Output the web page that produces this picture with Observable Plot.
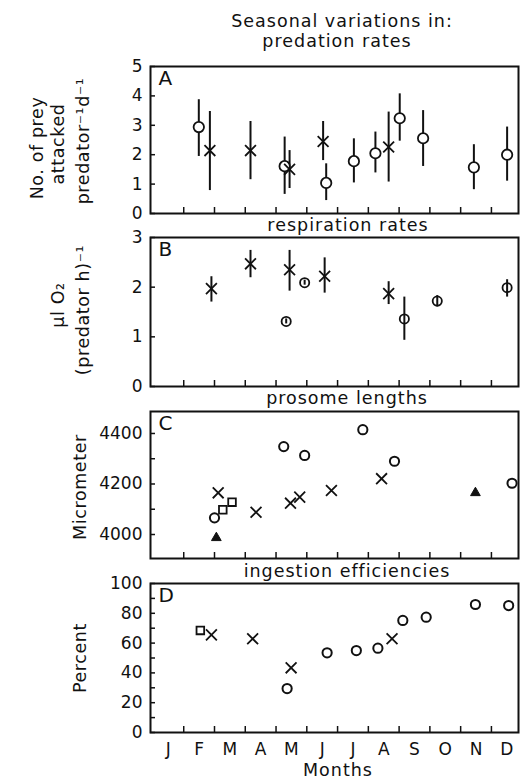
<!DOCTYPE html>
<html><head><meta charset="utf-8">
<script src="https://cdn.jsdelivr.net/npm/d3@7"></script>
<script src="https://cdn.jsdelivr.net/npm/@observablehq/plot@0.6"></script>
<style>
body{margin:0;background:#fff;}
#chart{position:relative;width:523px;height:780px;font-family:"DejaVu Sans",sans-serif;color:#111;overflow:hidden;}
</style></head><body><div id="chart"></div>
<script>
// ---- shared axis data ----
const monthLabels = ["J","F","M","A","M","J","J","A","S","O","N","D"];
const monthCenters = [0.5,1.5,2.5,3.5,4.5,5.5,6.5,7.5,8.5,9.5,10.5,11.5];
const monthTicks = [1,2,3,4,5,6,7,8,9,10,11];

// ---- A: predation rates ----
const predMonth  = [1.49, 1.85, 3.17, 4.28, 4.44, 5.53, 5.63, 6.53, 7.23, 7.66, 8.02, 8.78, 10.43, 11.51];
const predMean   = [2.94, 2.14, 2.14, 1.61, 1.50, 2.45, 1.04, 1.78, 2.05, 2.26, 3.24, 2.56, 1.57, 2.00];
const predLow    = [1.94, 0.78, 1.15, 0.65, 0.85, 1.80, 0.44, 1.04, 1.38, 1.07, 2.46, 1.60, 0.81, 1.10];
const predHigh   = [3.87, 3.47, 3.13, 2.60, 2.14, 3.13, 1.69, 2.54, 2.77, 3.45, 4.07, 3.50, 2.34, 2.94];
const predSymbol = ["circle","times","times","circle","times","times","circle","circle","circle","times","circle","circle","circle","circle"];
const predTicks = [0,1,2,3,4,5];

// ---- B: respiration rates ----
const respMonth  = [1.90, 3.17, 4.44, 4.33, 4.93, 5.58, 7.66, 8.17, 9.24, 11.51];
const respMean   = [1.97, 2.47, 2.35, 1.31, 2.09, 2.22, 1.87, 1.36, 1.72, 1.99];
const respLow    = [1.70, 2.19, 1.92, 1.26, 2.04, 1.88, 1.65, 0.93, 1.60, 1.80];
const respHigh   = [2.21, 2.74, 2.74, 1.36, 2.14, 2.59, 2.11, 1.80, 1.83, 2.15];
const respSymbol = ["times","times","times","circle","circle","times","times","circle","circle","circle"];
const respTicks = [0,1,2,3];

// ---- C: prosome lengths ----
const lenMonth  = [2.00, 2.27, 2.57, 2.06, 2.12, 3.35, 4.25, 4.47, 4.77, 4.93, 5.80, 6.82, 7.43, 7.85, 10.48, 11.67];
const lenValue  = [4066, 4098, 4128, 3987, 4165, 4088, 4348, 4124, 4148, 4313, 4174, 4415, 4221, 4290, 4165, 4203];
const lenSymbol = ["circle","square","square","triangle","times","times","circle","times","times","circle","times","circle","times","circle","triangle","circle"];
const lenLabelTicks = [4000,4200,4400];
const lenTicks = [4000,4100,4200,4300,4400];

// ---- D: ingestion efficiencies ----
const ingMonth  = [1.54, 1.90, 3.24, 4.36, 4.49, 5.66, 6.61, 7.31, 7.77, 8.12, 8.88, 10.48, 11.56];
const ingValue  = [68.5, 65.5, 62.9, 29.5, 43.4, 53.5, 55.0, 56.6, 62.9, 75.2, 77.4, 85.9, 85.2];
const ingSymbol = ["square","times","times","circle","times","circle","circle","circle","times","circle","circle","circle","circle"];
const ingLabelTicks = [0,20,40,60,80,100];
const ingTicks = [0,10,20,30,40,50,60,70,80,90,100];

// ---- layout ----
const W = 523, FL = 150, FR = 518;
const X_DOMAIN = [-0.08, 11.88];
const FONT = "DejaVu Sans";
const chart = document.getElementById("chart");

const predData = predMonth.map((m,i)=>({m, v:predMean[i], lo:predLow[i], hi:predHigh[i], s:predSymbol[i]}));
const respData = respMonth.map((m,i)=>({m, v:respMean[i], lo:respLow[i], hi:respHigh[i], s:respSymbol[i]}));
const lenData  = lenMonth.map((m,i)=>({m, v:lenValue[i], s:lenSymbol[i]}));
const ingData  = ingMonth.map((m,i)=>({m, v:ingValue[i], s:ingSymbol[i]}));

function symbolMarks(data, opts) {
  const circ = data.filter(d=>d.s==="circle");
  const tim = data.filter(d=>d.s==="times");
  const sq = data.filter(d=>d.s==="square");
  const tri = data.filter(d=>d.s==="triangle");
  return [
    Plot.dot(circ, {x:"m", y:"v", symbol:"circle", r:opts.cr, stroke:"#111", fill:opts.cfill, strokeWidth:opts.csw}),
    Plot.dot(tim, {x:"m", y:"v", symbol:"times", r:5, stroke:"#111", strokeWidth:1.8}),
    Plot.dot(sq, {x:"m", y:"v", symbol:"square", r:4.3, stroke:"#111", fill:"white", strokeWidth:1.8}),
    Plot.dot(tri, {x:"m", y:"v", symbol:"triangle", r:3.6, stroke:"#111", fill:"#111", strokeWidth:1})
  ];
}

function panel({top, bottom, yDomain, labelTicks, ticks, marks, letter, xAxis}) {
  const mt = 4, mb = xAxis ? 50 : 4;
  const h = bottom - top;
  const p = Plot.plot({
    width: W, height: h + mt + mb,
    marginLeft: FL, marginRight: W - FR, marginTop: mt, marginBottom: mb,
    style: {background: "none", fontFamily: FONT, fontSize: "17px", color: "#111", overflow: "visible"},
    x: {domain: X_DOMAIN, axis: xAxis ? undefined : null},
    y: {domain: yDomain},
    marks: [
      Plot.tickX(monthTicks, {x: d=>d, insetTop: h - 6, strokeWidth: 1.5, stroke:"#111"}),
      Plot.tickY(ticks, {y: d=>d, insetRight: (FR - FL) - 5, strokeWidth: 1.5, stroke:"#111"}),
      Plot.axisY({ticks: labelTicks, tickSize: 0, tickPadding: 8, tickFormat: d=>String(d), label: null}),
      xAxis ? Plot.axisX({ticks: monthCenters, tickSize: 0, tickPadding: 10, tickFormat: d=>monthLabels[Math.floor(d)], label: null}) : null,
      ...marks,
      Plot.frame({stroke: "#111", strokeWidth: 2}),
      Plot.text([letter], {frameAnchor: "top-left", text: d=>d, dx: 8, dy: 4, fontSize: 20, fill: "#111"})
    ]
  });
  p.style.position = "absolute";
  p.style.left = "0px";
  p.style.top = (top - mt) + "px";
  chart.append(p);
}

panel({top: 66, bottom: 213, yDomain: [0,5], labelTicks: predTicks, ticks: predTicks, letter: "A",
  marks: [Plot.ruleX(predData, {x:"m", y1:"lo", y2:"hi", strokeWidth:2, stroke:"#111"}),
          ...symbolMarks(predData, {cr:5.2, cfill:"white", csw:1.8})]});
panel({top: 237, bottom: 386, yDomain: [0,3], labelTicks: respTicks, ticks: respTicks, letter: "B",
  marks: [Plot.ruleX(respData, {x:"m", y1:"lo", y2:"hi", strokeWidth:2, stroke:"#111"}),
          ...symbolMarks(respData, {cr:4.6, cfill:"none", csw:1.8})]});
panel({top: 411, bottom: 558, yDomain: [3905,4487], labelTicks: lenLabelTicks, ticks: lenTicks, letter: "C",
  marks: symbolMarks(lenData, {cr:4.6, cfill:"white", csw:2})});
panel({top: 583, bottom: 732, yDomain: [0,100], labelTicks: ingLabelTicks, ticks: ingTicks, letter: "D", xAxis: true,
  marks: symbolMarks(ingData, {cr:4.6, cfill:"white", csw:2})});

// ---- text overlay ----
const svg = d3.select(chart).append("svg")
  .attr("width", W).attr("height", 780)
  .style("position","absolute").style("left","0").style("top","0")
  .style("pointer-events","none")
  .attr("font-family", FONT).attr("fill", "#111");

const titles = [
  {t: "Seasonal variations in:", x: 342, y: 27},
  {t: "predation rates", x: 337, y: 47},
  {t: "respiration rates", x: 348, y: 231},
  {t: "prosome lengths", x: 347, y: 404},
  {t: "ingestion efficiencies", x: 347, y: 577},
  {t: "Months", x: 338, y: 776}
];
svg.selectAll("text.title").data(titles).join("text")
  .attr("class","title")
  .attr("x", d=>d.x).attr("y", d=>d.y)
  .attr("text-anchor","middle").attr("font-size", 17.5)
  .attr("letter-spacing", "1px")
  .text(d=>d.t);

const yTitles = [
  {t: "No. of prey", x: 43, y: 148},
  {t: "attacked", x: 64, y: 144},
  {t: "predator⁻¹d⁻¹", x: 89, y: 141},
  {t: "µl O₂", x: 64, y: 305},
  {t: "(predator h)⁻¹", x: 89, y: 310},
  {t: "Micrometer", x: 86, y: 487},
  {t: "Percent", x: 86, y: 658}
];
svg.selectAll("text.ytitle").data(yTitles).join("text")
  .attr("class","ytitle")
  .attr("transform", d=>`translate(${d.x},${d.y}) rotate(-90)`)
  .attr("text-anchor","middle").attr("font-size", 17.5)
  .attr("letter-spacing", "0.6px")
  .text(d=>d.t);
</script></body></html>
